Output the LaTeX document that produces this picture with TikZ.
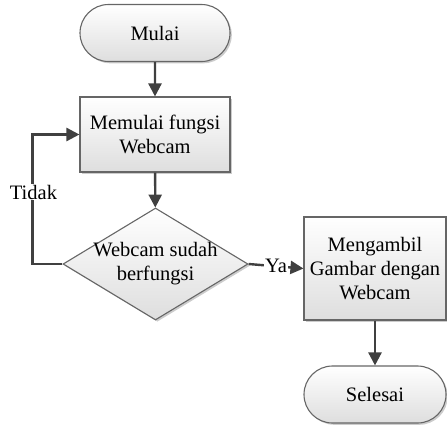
\documentclass[tikz,border=0pt]{standalone}
\usepackage{fontspec}
\setmainfont{Liberation Serif}
\usetikzlibrary{shapes.geometric,shapes.misc,arrows.meta,shadows}
\begin{document}
\begin{tikzpicture}[x=1pt,y=1pt,
  every node/.style={font=\fontsize{20.5}{24}\selectfont, align=center},
  shade box/.style={draw=black!60, line width=1.1pt, top color=white, bottom color=black!13,
    drop shadow={shadow xshift=1.8pt, shadow yshift=-1.8pt, fill=black!20, opacity=1}},
  terminal/.style={shade box, rounded rectangle, minimum width=150pt, minimum height=57pt, inner sep=0pt},
  process/.style={shade box, rectangle, inner sep=0pt},
  decision/.style={shade box, diamond, minimum width=185pt, minimum height=112pt, inner sep=0pt},
  flow/.style={draw=black!75, line width=2.4pt, -{Triangle[length=13pt,width=13pt]}},
  tag/.style={fill=white, inner sep=1pt}]
  \useasboundingbox (0,-424) rectangle (447,0);

  % nodes (y measured downward from the top edge)
  \node[terminal] (start) at (155,-33) {Mulai};
  \node[process, minimum width=150pt, minimum height=75pt] (init) at (155,-134.5) {Memulai fungsi\\Webcam};
  \node[decision] (check) at (155.5,-264) {};
  \node (checktext) at (check.center) {Webcam sudah\\berfungsi};
  \node[process, minimum width=142pt, minimum height=103pt] (capture) at (375,-268.5) {Mengambil\\Gambar dengan\\Webcam};
  \node[terminal, minimum width=142pt] (stop) at (375,-394.5) {Selesai};

  % connectors
  \draw[flow] (start) -- (init);
  \draw[flow] (init) -- (check);
  \draw[flow] (check.west) -- ++(-30,0) coordinate (loopcorner) |- (init.west);
  \node[tag] (no) at ([xshift=1pt,yshift=72pt]loopcorner) {Tidak};
  \draw[flow] (check.east) -- node[tag] (yes) {Ya} (capture.west);
  \draw[flow] (capture) -- (stop);
\end{tikzpicture}
\end{document}
